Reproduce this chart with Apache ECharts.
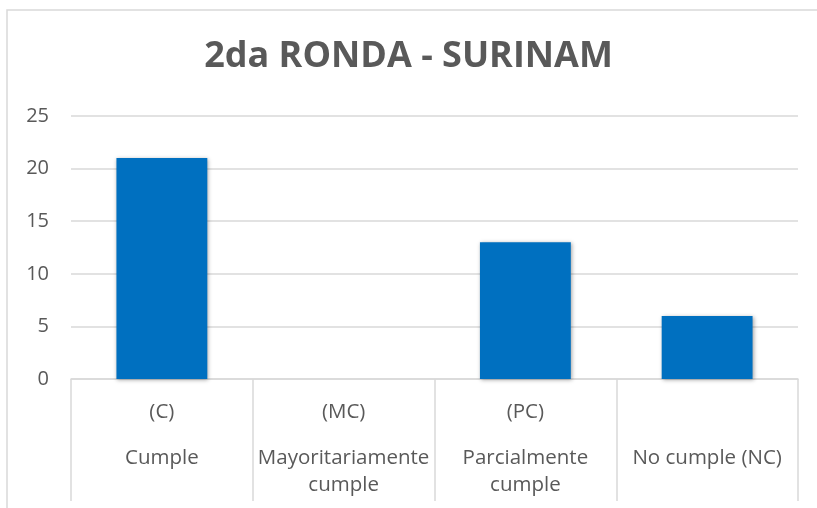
<!DOCTYPE html>
<html>
<head>
<meta charset="utf-8">
<script src="https://cdn.jsdelivr.net/npm/echarts@6/dist/echarts.min.js"></script>
<style>
  html, body { margin: 0; padding: 0; background: #fff; }
  #chart { width: 817px; height: 508px; }
</style>
</head>
<body>
<div id="chart"></div>
<script>
// datos
const codes = ['(C)', '(MC)', '(PC)', '']
const names = ['Cumple', 'Mayoritariamente\ncumple', 'Parcialmente\ncumple', 'No cumple (NC)']
const values = [21, 0, 13, 6]
const yTicks = [0, 5, 10, 15, 20, 25]

let categories = names.map((n, i) => codes[i] + '|' + n)

let chart = echarts.init(document.getElementById('chart'), null, { renderer: 'canvas' })

let option = {
  animation: false,
  textStyle: { fontFamily: 'Open Sans' },
  title: {
    text: '2da RONDA - SURINAM',
    left: 'center',
    top: 34,
    textStyle: {
      fontFamily: 'Open Sans',
      fontSize: 36,
      fontWeight: 'bold',
      color: '#595959'
    }
  },
  graphic: [{
    type: 'rect',
    shape: { x: 7, y: 10, width: 830, height: 520 },
    style: { fill: 'none', stroke: '#d9d9d9', lineWidth: 1.5 },
    silent: true
  }],
  grid: {
    left: 71,
    right: 19,
    top: 116,
    bottom: 129
  },
  xAxis: {
    type: 'category',
    data: categories,
    axisLine: { lineStyle: { color: '#d9d9d9', width: 1.5 } },
    axisTick: {
      show: true,
      interval: 0,
      length: 122,
      lineStyle: { color: '#d9d9d9', width: 1.5 }
    },
    axisLabel: {
      interval: 0,
      margin: 0,
      color: '#595959',
      formatter: function (v) {
        let parts = v.split('|')
        let lines = parts[1].split('\n').map(s => '{b|' + s + '}').join('\n')
        return '{a|' + (parts[0] || ' ') + '}\n' + lines
      },
      rich: {
        a: { fontFamily: 'Open Sans', fontSize: 20.5, color: '#595959', lineHeight: 66 },
        b: { fontFamily: 'Open Sans', fontSize: 20.5, color: '#595959', lineHeight: 27 }
      }
    }
  },
  yAxis: {
    type: 'value',
    min: yTicks[0],
    max: yTicks[yTicks.length - 1],
    interval: yTicks[1] - yTicks[0],
    axisLine: { show: false },
    axisTick: { show: false },
    splitLine: { lineStyle: { color: '#d9d9d9', width: 1.5 } },
    axisLabel: {
      color: '#595959',
      fontSize: 20,
      fontFamily: 'Open Sans',
      margin: 22
    }
  },
  series: [{
    type: 'bar',
    data: values,
    barWidth: '50%',
    itemStyle: {
      color: '#0070c0',
      shadowColor: 'rgba(0,0,0,0.35)',
      shadowBlur: 4,
      shadowOffsetX: 1,
      shadowOffsetY: 1
    }
  }]
}

chart.setOption(option)
</script>
</body>
</html>
